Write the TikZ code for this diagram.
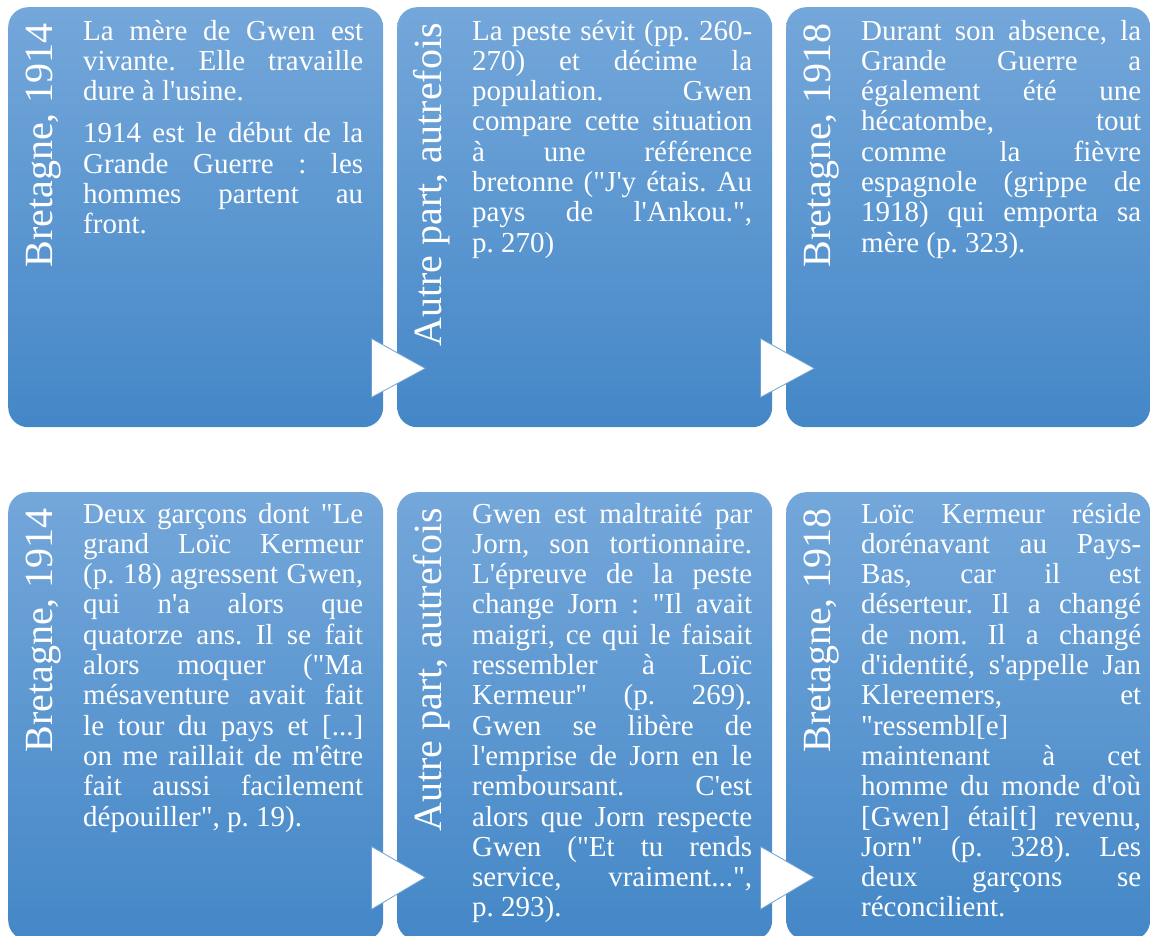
\documentclass[tikz,border=0pt]{standalone}
\usepackage{fontspec}
\setmainfont{Liberation Serif}[Ligatures=TeXOff]
\usepackage{xcolor}

\definecolor{boxtop}{RGB}{116,167,218}
\definecolor{boxbot}{RGB}{68,135,199}
\definecolor{tripen}{RGB}{110,160,212}
\newcommand{\brk}{\linebreak[4]}
\hyphenpenalty=10000

\tikzset{
	panel/.style={rounded corners=20pt, top color=boxtop, bottom color=boxbot, draw=none, anchor=north west, inner sep=0pt},
	era/.style={rotate=90, anchor=base east, inner sep=0pt, text=white, font={\fontsize{40}{48}\selectfont}},
	story/.style={anchor=base west, inner sep=0pt, text=white, text width=280pt, align=justify, font={\fontsize{29}{30.3}\selectfont\frenchspacing}},
	tri/.style={fill=white, draw=tripen, line width=0.8pt}
}

\begin{document}
\begin{tikzpicture}[x=1pt, y=-1pt]
		\useasboundingbox (0,0) rectangle (1151,935);
		% top row
		\node[panel, minimum width=375pt, minimum height=420pt] (b1) at (8,7) {};
		\node[panel, minimum width=375pt, minimum height=420pt] (b2) at (397,7) {};
		\node[panel, minimum width=364pt, minimum height=420pt] (b3) at (786,7) {};
		% bottom row
		\node[panel, minimum width=375pt, minimum height=448pt] (b4) at (8,492) {};
		\node[panel, minimum width=375pt, minimum height=448pt] (b5) at (397,492) {};
		\node[panel, minimum width=364pt, minimum height=448pt] (b6) at (786,492) {};

		\draw[tri] ([xshift=-12pt,yshift=89pt]b1.south east) -- ([xshift=42pt,yshift=59pt]b1.south east) -- ([xshift=-12pt,yshift=30pt]b1.south east) -- cycle;
		\draw[tri] ([xshift=-12pt,yshift=89pt]b2.south east) -- ([xshift=42pt,yshift=59pt]b2.south east) -- ([xshift=-12pt,yshift=30pt]b2.south east) -- cycle;
		\draw[tri] ([xshift=-12pt,yshift=94pt]b4.south east) -- ([xshift=42pt,yshift=63pt]b4.south east) -- ([xshift=-12pt,yshift=31pt]b4.south east) -- cycle;
		\draw[tri] ([xshift=-12pt,yshift=94pt]b5.south east) -- ([xshift=42pt,yshift=63pt]b5.south east) -- ([xshift=-12pt,yshift=31pt]b5.south east) -- cycle;

		\node[era] (e1) at (52,23) {Bretagne, 1914};
		\node[era] (e2) at (441,23) {Autre part, autrefois};
		\node[era] (e3) at (830,23) {Bretagne, 1918};
		\node[era] (e4) at (52,508) {Bretagne, 1914};
		\node[era] (e5) at (441,508) {Autre part, autrefois};
		\node[era] (e6) at (830,508) {Bretagne, 1918};

		\node[story] (s1) at (83,40) {La mère de Gwen est\brk vivante. Elle travaille\brk dure à l'usine.\par\vspace{12pt}
			1914 est le début de la\brk Grande Guerre : les\brk hommes partent au\brk front.};
		\node[story] (s2) at (472,40) {La peste sévit (pp. 260-\brk 270) et décime la\brk population. Gwen\brk compare cette situation\brk à une référence\brk bretonne ("J'y étais. Au\brk pays de l'Ankou.",\brk p. 270)};
		\node[story] (s3) at (861,40) {Durant son absence, la\brk Grande Guerre a\brk également été une\brk hécatombe, tout\brk comme la fièvre\brk espagnole (grippe de\brk 1918) qui emporta sa\brk mère (p. 323).};
		\node[story] (s4) at (83,523) {Deux garçons dont "Le\brk grand Loïc Kermeur\brk (p. 18) agressent Gwen,\brk qui n'a alors que\brk quatorze ans. Il se fait\brk alors moquer ("Ma\brk mésaventure avait fait\brk le tour du pays et [...]\brk on me raillait de m'être\brk fait aussi facilement\brk dépouiller", p. 19).};
		\node[story] (s5) at (472,523) {Gwen est maltraité par\brk Jorn, son tortionnaire.\brk L'épreuve de la peste\brk change Jorn : "Il avait\brk maigri, ce qui le faisait\brk ressembler à Loïc\brk Kermeur" (p. 269).\brk Gwen se libère de\brk l'emprise de Jorn en le\brk remboursant. C'est\brk alors que Jorn respecte\brk Gwen ("Et tu rends\brk service, vraiment...",\brk p. 293).};
		\node[story] (s6) at (861,523) {Loïc Kermeur réside\brk dorénavant au Pays-\brk Bas, car il est\brk déserteur. Il a changé\brk de nom. Il a changé\brk d'identité, s'appelle Jan\brk Klereemers, et\brk "ressembl[e]\brk maintenant à cet\brk homme du monde d'où\brk [Gwen] étai[t] revenu,\brk Jorn" (p. 328). Les\brk deux garçons se\brk réconcilient.};
	\end{tikzpicture}
\end{document}
